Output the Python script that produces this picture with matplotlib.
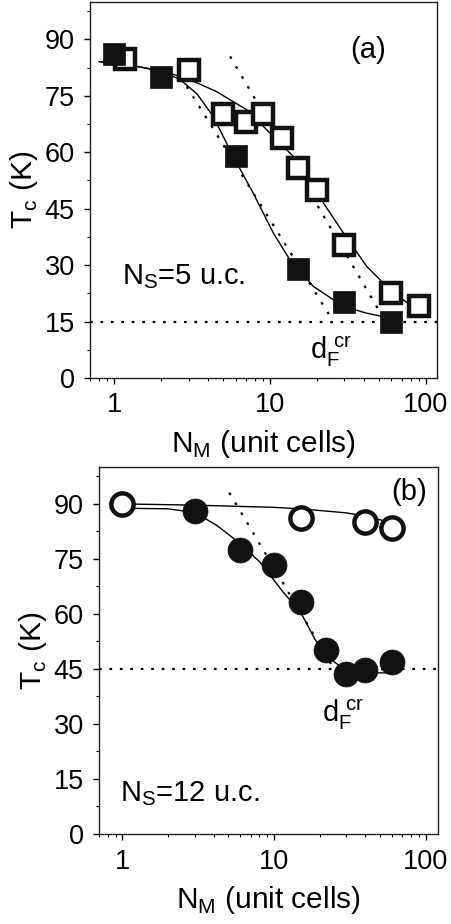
import matplotlib
matplotlib.use("Agg")
import matplotlib.pyplot as plt
from matplotlib.ticker import LogLocator, FixedLocator, NullFormatter, FuncFormatter

plt.rcParams['font.family'] = ['Liberation Sans', 'DejaVu Sans']
plt.rcParams['mathtext.fontset'] = 'custom'
plt.rcParams['mathtext.rm'] = 'Liberation Sans'

# ---- panel (a): N_S = 5 u.c. ----
a_fill_x = [1, 2, 6, 15, 30, 60]
a_fill_y = [86.2, 80.1, 59, 28.9, 20.3, 15]
a_open_x = [1.17, 3, 5, 7, 9, 12, 15, 20, 30, 60, 90]
a_open_y = [84.7, 82, 70.2, 68, 70.2, 63.9, 55.9, 50, 35.4, 22.5, 19.1]

# fit curves
a_fitf_x = [0.8, 1.2, 2.0, 2.65, 3.4, 4.32, 5.8, 7.8, 10.5, 13.4, 19, 29.6, 41.8, 59]
a_fitf_y = [84.1, 83.4, 81.6, 79.3, 75.5, 69.5, 58.9, 49.1, 38.5, 31.4, 24.3, 19.0, 17.2, 15.9]
a_fito_x = [0.8, 1.5, 2.2, 3.06, 4.5, 7.08, 9.5, 14.1, 20, 29.6, 41.8, 59, 89.7]
a_fito_y = [84.1, 82.6, 81.2, 79.3, 76.2, 71.3, 66.0, 58.9, 49.1, 38.5, 29.6, 23.4, 17.7]
a_tanf_x = [2.92, 25.5]
a_tanf_y = [77.5, 15]
a_tano_x = [5.54, 55]
a_tano_y = [85.5, 15]
a_level = 15

# ---- panel (b): N_S = 12 u.c. ----
b_fill_x = [3, 6, 10, 15, 22, 30, 40, 60]
b_fill_y = [88.1, 77.5, 73.2, 63.1, 50, 43.5, 44.7, 46.9]
b_open_x = [1, 15, 40, 60]
b_open_y = [90, 86, 85, 83.4]

b_fitf_x = [0.83, 2.0, 3.0, 4.19, 6.0, 8.07, 11.5, 15, 18.6, 22, 27.2, 33, 45, 59.5]
b_fitf_y = [88.8, 88.6, 87.6, 84.1, 79.1, 74.1, 65.9, 60.4, 53.1, 48.5, 45.8, 44.4, 43.9, 43.9]
b_fito_x = [0.83, 3, 10, 15, 30, 40, 60]
b_fito_y = [90, 89.6, 89, 88.6, 87.5, 86.6, 84.8]
b_tan_x = [5.07, 24.6]
b_tan_y = [93, 45.3]
b_level = 45

yticks = [0, 15, 30, 45, 60, 75, 90]

fig = plt.figure(figsize=(4.52, 9.24), dpi=100)
ax1 = fig.add_axes([0.199, 0.591, 0.768, 0.407])
ax2 = fig.add_axes([0.219, 0.0974, 0.749, 0.3972])


def style(ax, xlim):
    ax.set_xscale('log')
    ax.set_xlim(*xlim)
    ax.set_ylim(0, 100)
    ax.yaxis.set_major_locator(FixedLocator(yticks))
    ax.yaxis.set_minor_locator(FixedLocator([7.5 + 15 * i for i in range(7)]))
    ax.xaxis.set_major_locator(FixedLocator([1, 10, 100]))
    ax.xaxis.set_major_formatter(FuncFormatter(lambda v, p: '%g' % v))
    ax.xaxis.set_minor_locator(LogLocator(base=10, subs=range(2, 10)))
    ax.xaxis.set_minor_formatter(NullFormatter())
    ax.tick_params(which='major', direction='out', length=4.5, width=1, labelsize=19.5)
    ax.tick_params(which='minor', direction='out', length=2.5, width=0.8)
    ax.tick_params(axis='y', pad=6.5)
    ax.tick_params(axis='x', pad=6)
    for s in ax.spines.values():
        s.set_linewidth(1.0)
        s.set_color('#222222')
    ax.set_ylabel(r'T$_{\rm c}$ (K)', fontsize=21.5, labelpad=3)
    ax.set_xlabel(r'N$_{\rm M}$ (unit cells)', fontsize=21.5, labelpad=7)


style(ax1, (0.698, 118))
ax1.axhline(a_level, color='k', ls=(0, (1.2, 3.5)), lw=1.6)
ax1.plot(a_tanf_x, a_tanf_y, color='k', ls=(0, (1.2, 4)), lw=1.6)
ax1.plot(a_tano_x, a_tano_y, color='k', ls=(0, (1.2, 4)), lw=1.6)
ax1.plot(a_fitf_x, a_fitf_y, color='k', lw=1.0)
ax1.plot(a_fito_x, a_fito_y, color='k', lw=1.0)
ax1.plot(a_open_x, a_open_y, 's', ms=14, mfc='white', mec='#111111', mew=3.2, ls='none')
ax1.plot(a_fill_x, a_fill_y, 's', ms=16.5, mfc='#111111', mec='#111111', mew=0.5, ls='none')
ax1.text(42.8, 87.2, '(a)', fontsize=21, ha='center', va='center')
ax1.text(1.12, 27, r'N$_{\rm S}$=5 u.c.', fontsize=21, ha='left', va='center')
ax1.text(18, 7, r'd$_{\rm F}^{\ \rm cr}$', fontsize=21, ha='left', va='center')

style(ax2, (0.70, 120))
ax2.axhline(b_level, color='k', ls=(0, (1.2, 3.5)), lw=1.6)
ax2.plot(b_tan_x, b_tan_y, color='k', ls=(0, (1.2, 4)), lw=1.6)
ax2.plot(b_fitf_x, b_fitf_y, color='k', lw=1.0)
ax2.plot(b_fito_x, b_fito_y, color='k', lw=1.0)
ax2.plot(b_open_x, b_open_y, 'o', ms=16, mfc='white', mec='#111111', mew=3.2, ls='none')
ax2.plot(b_fill_x, b_fill_y, 'o', ms=18, mfc='#111111', mec='#111111', mew=0.5, ls='none')
ax2.text(78.5, 93.3, '(b)', fontsize=21, ha='center', va='center')
ax2.text(0.97, 11.1, r'N$_{\rm S}$=12 u.c.', fontsize=21, ha='left', va='center')
ax2.text(20.6, 32.6, r'd$_{\rm F}^{\ \rm cr}$', fontsize=21, ha='left', va='center')

fig.savefig('out.png', dpi=100)
